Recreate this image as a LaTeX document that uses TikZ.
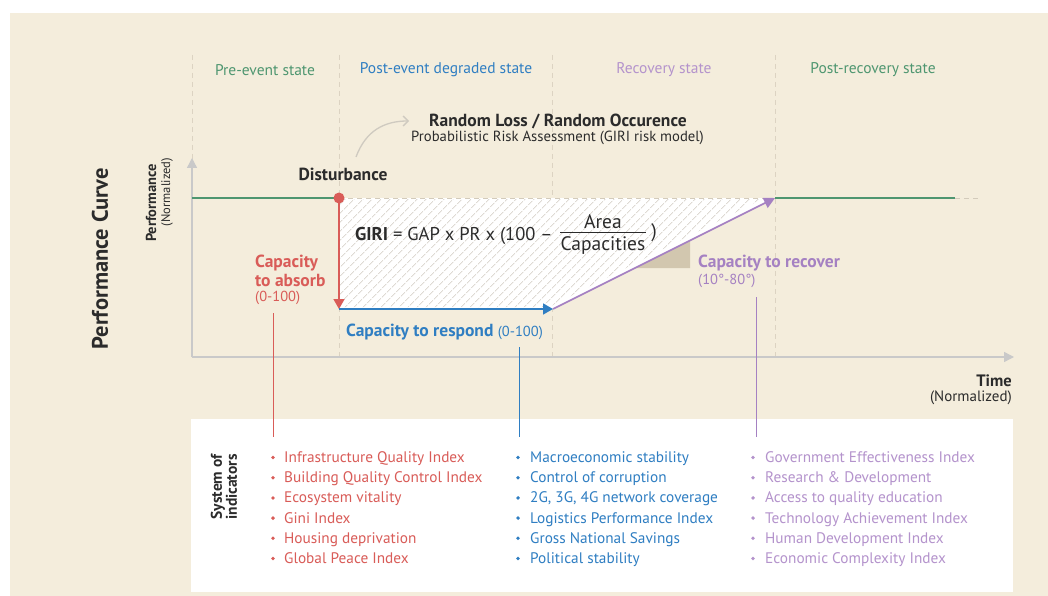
\documentclass[tikz,border=0pt]{standalone}
\usepackage{fontspec}
\setmainfont{PT Sans}
\usetikzlibrary{arrows.meta,patterns.meta}
\definecolor{bg}{HTML}{F4EDDC}
\definecolor{cgreen}{HTML}{4E9670}
\definecolor{cblue}{HTML}{2F7EC2}
\definecolor{cpurple}{HTML}{A581C2}
\definecolor{cpurplelt}{HTML}{B493CC}
\definecolor{cred}{HTML}{D95C58}
\definecolor{caxis}{HTML}{C9C9C9}
\definecolor{cgrid}{HTML}{DCD3C2}
\definecolor{chatch}{HTML}{DEDAD3}
\definecolor{ctan}{HTML}{D2C7AF}
\definecolor{ctext}{HTML}{2B2B2B}
\definecolor{ccurve}{HTML}{CFCAC0}
\tikzset{
  gridline/.style={cgrid, line width=0.8pt, dash pattern=on 5pt off 4pt},
  axisline/.style={caxis, line width=1.4pt, -{Triangle[width=10pt,length=10pt]}},
  statelbl/.style={font=\fontsize{15.5}{17}\selectfont, anchor=center, inner sep=0pt},
  boldlbl/.style={font=\bfseries\fontsize{17.5}{20}\selectfont, inner sep=0pt, text=ctext},
  smalllbl/.style={font=\fontsize{14.7}{17}\selectfont, inner sep=0pt},
  caplbl/.style={font=\bfseries\fontsize{17.5}{20}\selectfont, anchor=west, inner sep=0pt},
  capsub/.style={font=\fontsize{14.5}{17}\selectfont, anchor=west, inner sep=0pt},
  formula/.style={font=\fontsize{18.5}{22}\selectfont, inner sep=0pt, text=ctext},
  fracpart/.style={font=\fontsize{19.5}{22}\selectfont, inner sep=0pt, text=ctext},
  itemlbl/.style={font=\fontsize{15.3}{18}\selectfont, inner sep=0pt, anchor=base west},
  stem/.style={line width=1pt},
}
\begin{document}
\begin{tikzpicture}[x=1pt,y=-1pt]
\useasboundingbox (0,0) rectangle (1048,596);
\fill[white] (0,0) rectangle (1048,596);
\fill[bg] (10,13) rectangle (1048,596);
\fill[white] (191,419) rectangle (1013,592);

% state dividers
\foreach \x in {192,339,552,775} \draw[gridline] (\x,55) -- (\x,357);

% state labels
\node[statelbl, text=cgreen] (s1) at (265,70) {Pre-event state};
\node[statelbl, text=cblue] (s2) at (446,70) {Post-event degraded state};
\node[statelbl, text=cpurplelt] (s3) at (664,70) {Recovery state};
\node[statelbl, text=cgreen] (s4) at (873,70) {Post-recovery state};

% hatched loss area
\coordinate (D) at (339,198);
\coordinate (B) at (339,309);
\coordinate (R) at (553,309);
\coordinate (F) at (775,198);
\fill[white] (D) -- (F) -- (R) -- (B) -- cycle;
\fill[pattern={Lines[angle=45,distance=6.5pt,line width=0.8pt]}, pattern color=chatch]
  (340,199) -- (762,199) -- (549,307) -- (340,307) -- cycle;
\draw[gridline, cgrid!90!gray] (D) -- (F);

% slope triangle
\fill[ctan] (635,268) -- (690,240.5) -- (690,268) -- cycle;

% axes
\coordinate (O) at (192,357);
\coordinate (Ytop) at (192,158);
\coordinate (Xend) at (1014,357);
\draw[axisline] (O) -- (Ytop);
\draw[axisline] (O) -- (Xend);

% performance lines
\coordinate (P0) at (192,198);
\coordinate (G2) at (955,198);
\coordinate (G3) at (978,198);
\draw[cgreen, line width=2pt] (P0) -- (D);
\draw[cgreen, line width=2pt] (F) -- (G2);
\draw[gridline, cgrid!90!gray] (G2) -- (G3);

% capacities
\draw[cred, line width=1.6pt, -{Triangle[width=11pt,length=10pt]}] (D) -- (B);
\draw[cblue, line width=1.6pt, -{Triangle[width=11pt,length=10pt]}] (B) -- (R);
\draw[cpurple, line width=1.6pt, -{Triangle[width=11pt,length=11pt]}] (R) -- (F);
\node[circle, fill=cred, minimum size=11pt, inner sep=0pt] (dot) at (D) {};

% top labels
\node[boldlbl, anchor=center] (dist) at (343,174) {Disturbance};
\node[boldlbl, anchor=west] (rl) at (429,121) {Random Loss / Random Occurence};
\node[smalllbl, anchor=west, text=ctext] (pra) at (411,138) {Probabilistic Risk Assessment (GIRI risk model)};
\coordinate (c0) at (356,157);
\draw[ccurve, line width=1.3pt, -{Straight Barb[length=5pt,width=10pt]}] (c0) .. controls (366,130) and (385,121) .. ([xshift=-20pt]rl.west);

% GIRI formula
\node[formula, anchor=base west] (giri) at (355,240)
  {\textbf{GIRI} = GAP x PR x (100 –};
\node[fracpart, anchor=base] (area) at (603,228) {Area};
\node[fracpart, anchor=base] (capa) at (603,250) {Capacities};
\draw[ctext, line width=1pt] (560,232) -- (646,232);
\node[fracpart, anchor=base] (rp) at (654,237) {)};

% capacity labels
\node[caplbl, text=cred] (abs1) at (255,263) {Capacity};
\node[caplbl, text=cred] (abs2) at (255,280) {to absorb};
\node[capsub, text=cred] (abs3) at (255,298) {(0-100)};
\node[anchor=west, inner sep=0pt, text=cblue] (resp) at (346,332)
  {\bfseries\fontsize{17.5}{20}\selectfont Capacity to respond \mdseries\fontsize{14.5}{17}\selectfont(0-100)};
\node[caplbl, text=cpurple] (rec1) at (698,263) {Capacity to recover};
\node[capsub, text=cpurple] (rec2) at (698,281) {(10°-80°)};

% stems to indicator lists
\coordinate (rs) at (273,313);
\coordinate (re) at (273,437);
\coordinate (bs) at (519,347);
\coordinate (be) at (519,437);
\coordinate (ps) at (756,297);
\coordinate (pe) at (756,437);
\draw[stem, cred] (rs) -- (re);
\draw[stem, cblue] (bs) -- (be);
\draw[stem, cpurple] (ps) -- (pe);

% axis labels
\node[font=\bfseries\fontsize{22.5}{26}\selectfont, rotate=90, inner sep=0pt, text=ctext] (pc) at (100,259) {Performance Curve};
\node[font=\bfseries\fontsize{14.5}{16}\selectfont, rotate=90, inner sep=0pt, text=ctext] (perf) at (151,203) {Performance};
\node[font=\fontsize{12.5}{14}\selectfont, rotate=90, inner sep=0pt, text=ctext] (pnorm) at (167,192) {(Normalized)};
\node[font=\bfseries\fontsize{16.5}{19}\selectfont, anchor=east, inner sep=0pt, text=ctext] (time) at (1012,381) {Time};
\node[font=\fontsize{15}{17}\selectfont, anchor=east, inner sep=0pt, text=ctext] (tnorm) at (1012,398) {(Normalized)};

% system of indicators
\node[font=\bfseries\fontsize{15.5}{15}\selectfont, rotate=90, align=center, inner sep=0pt, text=ctext] (soi) at (224,487) {System of\\indicators};

% indicator lists
\foreach \t [count=\i from 0] in {Infrastructure Quality Index, Building Quality Control Index, Ecosystem vitality, Gini Index, Housing deprivation, Global Peace Index} {
  \fill[cred] (273,{457.5+20.2*\i}) circle (1.9pt);
  \node[itemlbl, text=cred] (r\i) at (284,{462.5+20.2*\i}) {\t};
}
\foreach \t [count=\i from 0] in {Macroeconomic stability, Control of corruption, {2G, 3G, 4G network coverage}, Logistics Performance Index, Gross National Savings, Political stability} {
  \fill[cblue] (518,{457.5+20.2*\i}) circle (1.9pt);
  \node[itemlbl, text=cblue] (b\i) at (530,{462.5+20.2*\i}) {\t};
}
\foreach \t [count=\i from 0] in {Government Effectiveness Index, Research \& Development, Access to quality education, Technology Achievement Index, Human Development Index, Economic Complexity Index} {
  \fill[cpurplelt] (753,{457.5+20.2*\i}) circle (1.9pt);
  \node[itemlbl, text=cpurplelt] (p\i) at (765,{462.5+20.2*\i}) {\t};
}
\end{tikzpicture}
\end{document}
